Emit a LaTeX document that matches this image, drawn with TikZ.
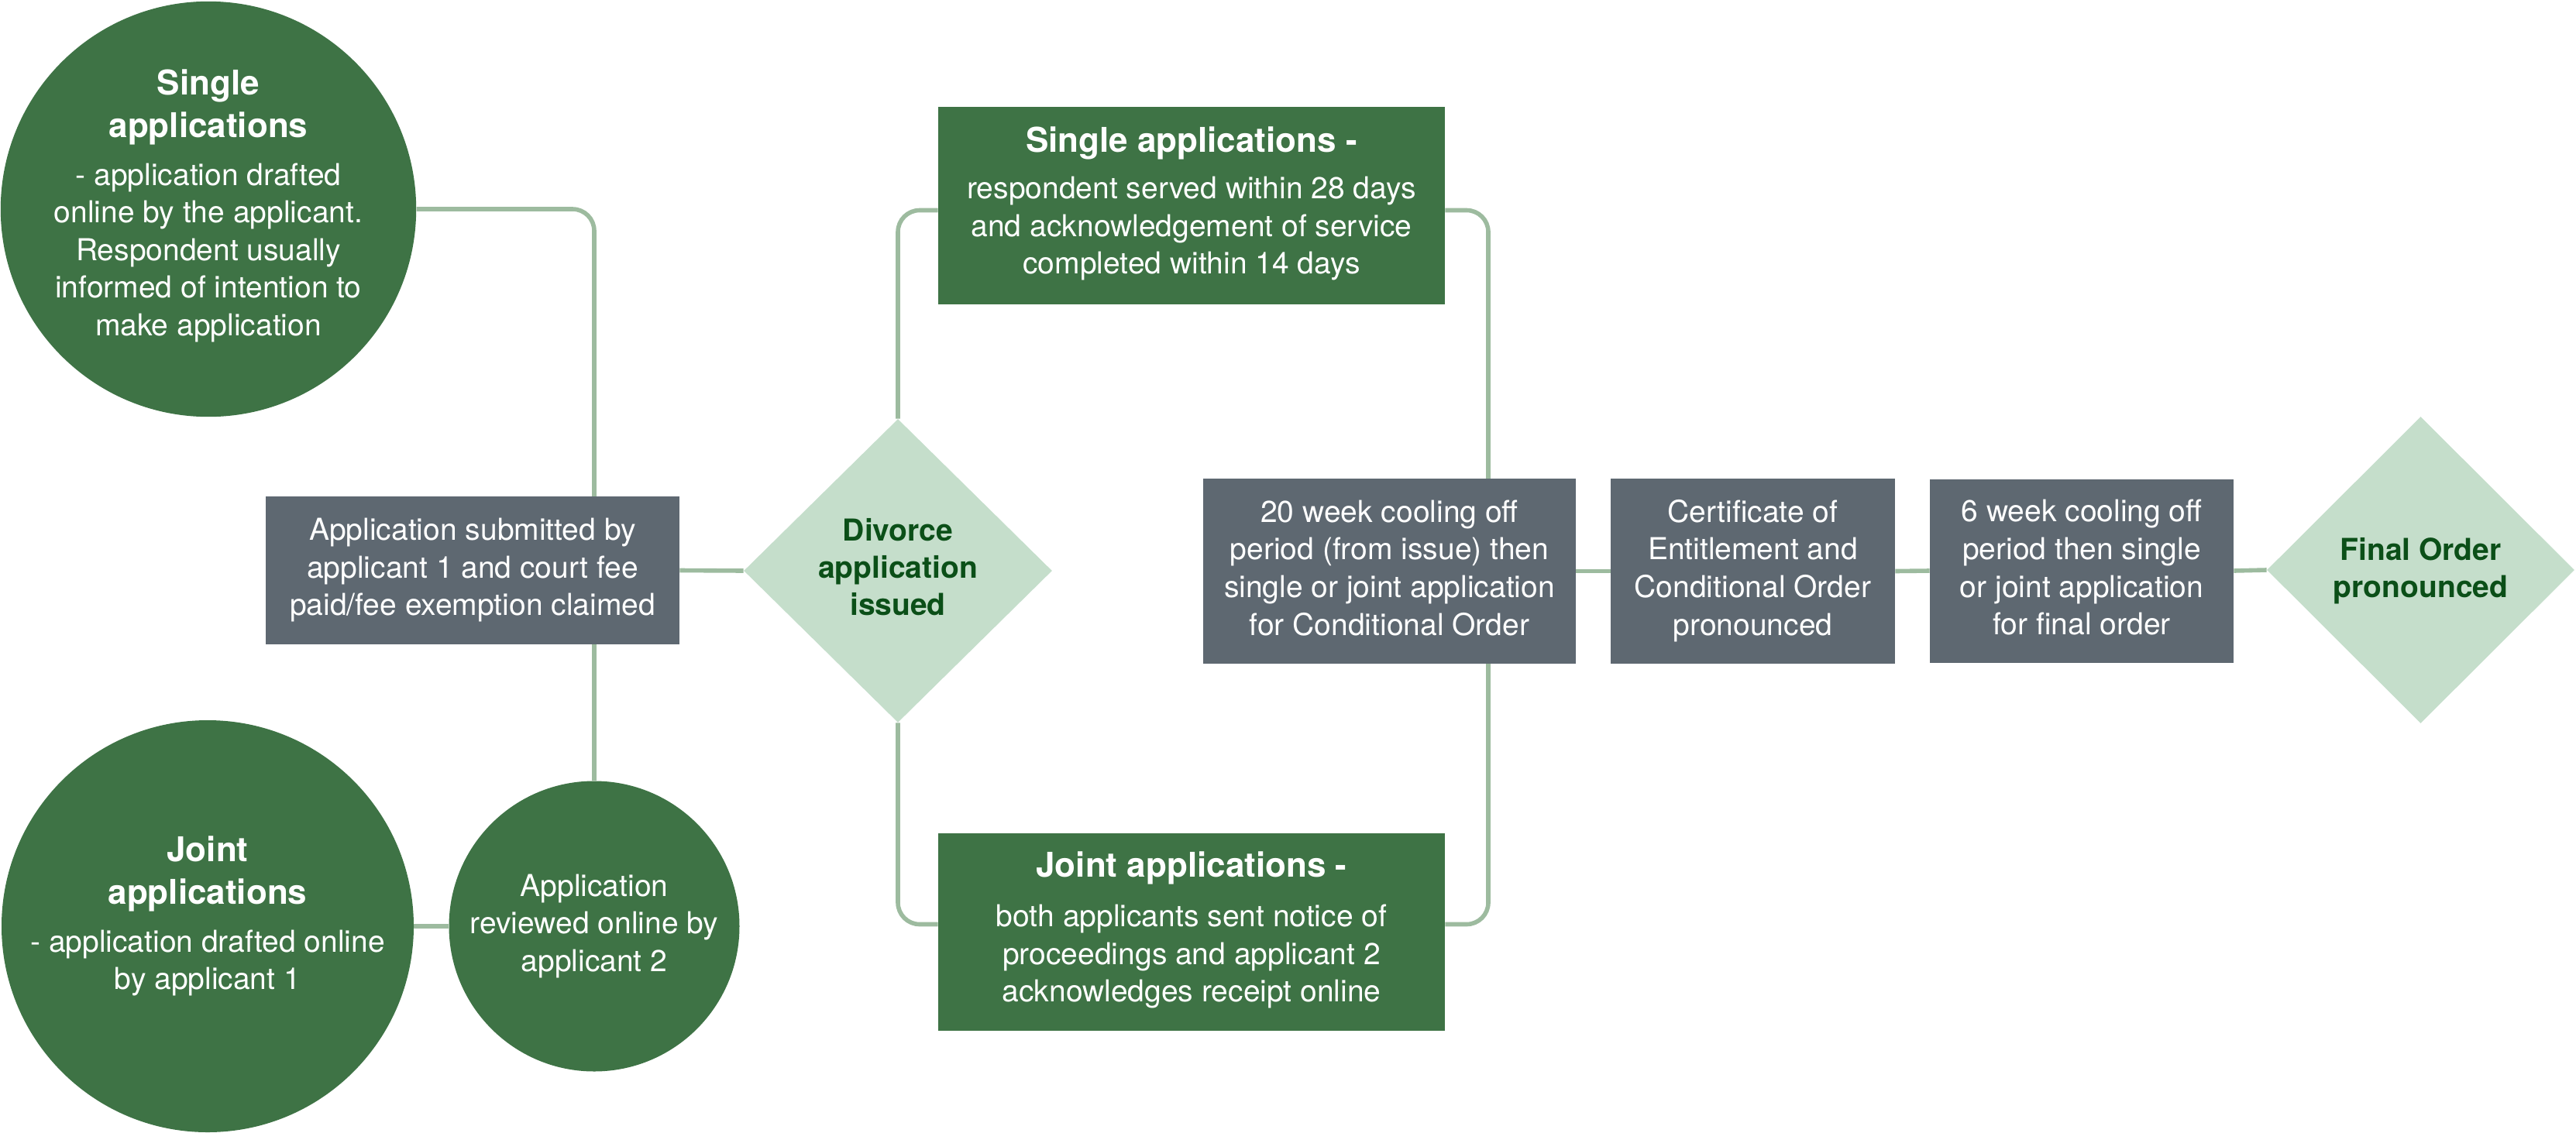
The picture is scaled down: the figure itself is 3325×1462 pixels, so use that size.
\documentclass[tikz,border=0pt]{standalone}
\usepackage{fontspec}
\setmainfont{TeX Gyre Heros}
\usetikzlibrary{shapes.geometric,backgrounds}
\definecolor{dg}{HTML}{3E7345}
\definecolor{slate}{HTML}{5E6871}
\definecolor{lg}{HTML}{C5DECB}
\definecolor{cc}{HTML}{9DBB9F}
\definecolor{dtext}{HTML}{0B4F18}
\newcommand{\bodyf}{\fontsize{19.5}{24.3}\selectfont}
\newcommand{\headf}{\bfseries\fontsize{22}{27.5}\selectfont}
\newcommand{\diaf}{\bfseries\fontsize{19.5}{23.8}\selectfont}
% shift the text up by 2*#1 while keeping the box centred on the node
\newcommand{\ml}[2][0pt]{\raisebox{#1}[\height][\dimexpr\depth+#1+#1\relax]{\begin{tabular}{@{}c@{}}#2\end{tabular}}}
\begin{document}
\begin{tikzpicture}[x=0.5pt,y=-0.5pt,
  graybox/.style={rectangle, fill=slate, text=white, inner sep=0pt, font=\bodyf},
  gbox/.style={rectangle, fill=dg, text=white, inner sep=0pt, font=\bodyf, minimum width=327pt, minimum height=127.5pt},
  circ/.style={circle, fill=dg, text=white, inner sep=0pt, font=\bodyf},
  dia/.style={diamond, fill=lg, text=dtext, inner sep=0pt, font=\diaf},
  conn/.style={draw=cc, line width=2.8pt, rounded corners=14pt}]
\useasboundingbox (0,0) rectangle (3325,1462);

\node[circ, minimum size=266.5pt] (c1) at (269,270) {\ml[0.5pt]{{\headf Single}\\[3.2pt]{\headf applications}\\[6.7pt]- application drafted\\online by the applicant.\\Respondent usually\\informed of intention to\\make application}};
\node[circ, minimum size=266pt] (c2) at (268,1196) {\ml[2.65pt]{{\headf Joint}\\[3.2pt]{\headf applications}\\[6.7pt]- application drafted online\\by applicant 1}};
\node[circ, minimum size=187.5pt] (c3) at (767,1196) {\ml{Application\\reviewed online by\\applicant 2}};

\node[graybox, minimum width=267pt, minimum height=95.5pt] (box1) at (610,736.5) {\ml{Application submitted by\\applicant 1 and court fee\\paid/fee exemption claimed}};

\node[dia, minimum width=199pt, minimum height=196pt] (d1) at (1159,737) {\ml{Divorce\\application\\issued}};

\node[gbox] (g1) at (1538,265.5) {\ml{{\headf Single applications -}\\[5.7pt]respondent served within 28 days\\and acknowledgement of service\\completed within 14 days}};
\node[gbox] (g2) at (1538,1203.5) {\ml{{\headf Joint applications -}\\[7.7pt]both applicants sent notice of\\proceedings and applicant 2\\acknowledges receipt online}};

\node[graybox, minimum width=240.5pt, minimum height=119.5pt] (a) at (1793.5,737.5) {\ml{20 week cooling off\\period (from issue) then\\single or joint application\\for Conditional Order}};
\node[graybox, minimum width=183.5pt, minimum height=119.5pt] (b) at (2262.5,737.5) {\ml{Certificate of\\Entitlement and\\Conditional Order\\pronounced}};
\node[graybox, minimum width=196pt, minimum height=118.5pt] (c) at (2687,737) {\ml{6 week cooling off\\period then single\\or joint application\\for final order}};

\node[dia, minimum width=198.5pt, minimum height=198pt] (d2) at (3124.5,736) {\ml[-0.5pt]{Final Order\\pronounced}};

\coordinate (jn) at (1921,737);

\begin{scope}[on background layer]
\draw[conn] (c1.east) -| (c3.north);
\draw[conn] (c2.east) -- (c3.west);
\draw[conn] (box1.east) -- (d1.west);
\draw[conn] (d1.north) |- ([yshift=-3pt]g1.west);
\draw[conn] (d1.south) |- ([yshift=5pt]g2.west);
\draw[conn] ([yshift=-3pt]g1.east) -| (jn) |- ([yshift=5pt]g2.east);
\draw[conn] (a.east) -- (b.west);
\draw[conn] (b.east) -- (c.west);
\draw[conn] (c.east) -- (d2.west);
\end{scope}
\end{tikzpicture}
\end{document}
